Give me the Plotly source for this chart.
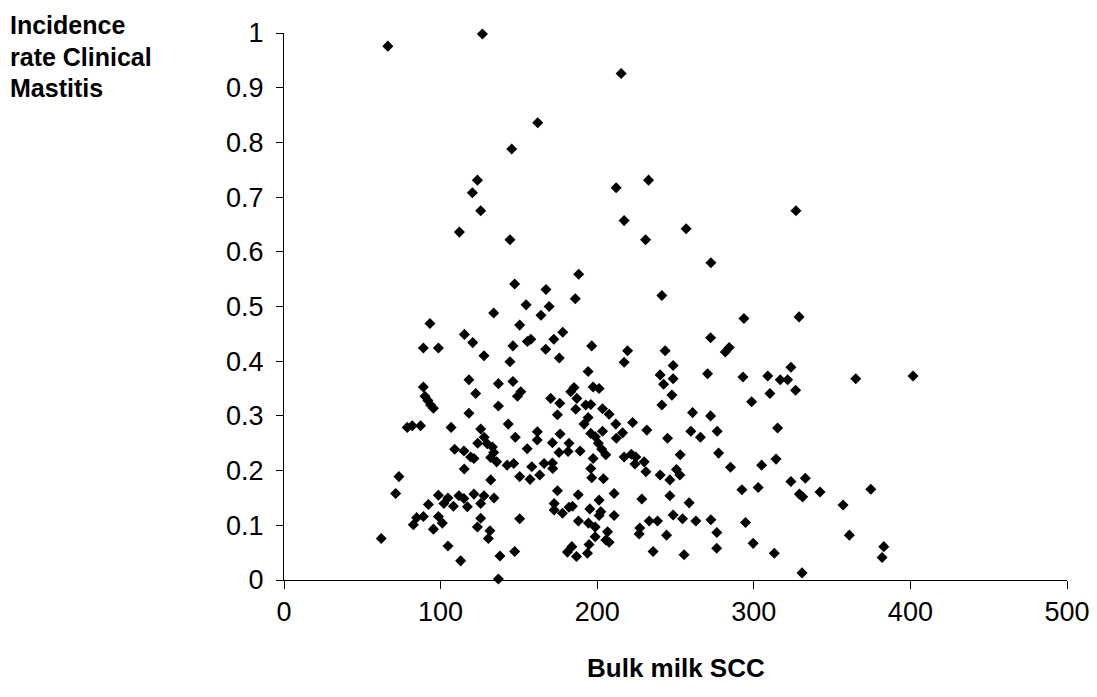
import plotly.graph_objects as go

# Bulk milk SCC (x) and incidence rate of clinical mastitis (y)
scc = [
    66.3, 126.7, 162.0, 145.4, 123.5, 120.3, 125.6, 112.0, 144.3, 147.3,
    167.3, 215.3, 232.8, 212.1, 217.2, 256.8, 230.9, 272.6, 188.2, 186.0,
    241.3, 326.9, 154.6, 169.3, 133.9, 164.1, 93.2, 150.5, 115.2, 172.3,
    157.6, 155.4, 120.5, 89.0, 98.6, 146.2, 167.1, 178.0, 127.7, 175.8,
    144.3, 118.1, 136.9, 146.2, 89.0, 151.2, 149.1, 122.4, 90.0, 91.9,
    93.6, 95.4, 170.3, 176.1, 136.9, 118.1, 174.6, 78.7, 81.9, 87.2,
    106.7, 125.6, 143.2, 147.7, 161.8, 161.7, 176.3,
    293.7, 272.4, 196.5, 219.4, 243.4, 284.3, 281.8, 217.2, 248.5, 194.2,
    240.2, 242.4, 248.5, 270.5, 293.1, 185.2, 183.1, 197.4, 201.2, 187.0,
    247.7, 241.3, 192.7, 195.9, 203.4, 207.6, 186.3, 194.2, 191.6, 260.9,
    272.4, 222.6, 211.9, 231.7, 203.4, 195.9, 198.8, 216.2, 212.2, 259.8,
    276.6, 244.9, 265.9,
    328.9, 323.7, 308.9, 316.9, 321.6, 326.7, 310.3, 298.6, 315.2, 365.1,
    401.7,
    123.7, 127.8, 129.8, 133.1, 133.9, 171.4, 109.0, 114.9, 119.2, 121.3,
    132.0, 135.8, 155.3, 142.5, 146.7, 158.2, 166.1, 171.4, 171.6, 175.6,
    182.0, 181.4, 189.1, 115.1, 73.4, 150.5, 157.1, 163.3, 132.0, 71.3,
    98.6, 104.7, 102.1, 111.7, 114.9, 117.1, 108.2, 121.3, 127.7, 125.6,
    134.1, 174.6, 172.5, 172.5, 177.8, 92.2, 84.7, 89.0, 82.6, 98.6,
    101.1, 95.4, 125.6, 123.5, 150.5, 131.5, 130.5, 62.1, 104.7, 137.9,
    147.3, 112.8, 136.9,
    200.7, 202.9, 205.5, 197.4, 217.2, 221.8, 224.7, 224.1, 230.0, 231.1,
    253.0, 277.5, 195.9, 196.5, 204.0, 240.2, 246.4, 250.6, 252.8, 285.1,
    292.4, 187.9, 210.8, 228.5, 246.4, 258.7, 182.0, 184.2, 195.3, 201.2,
    202.3, 201.2, 210.8, 188.0, 194.4, 198.7, 206.6, 198.7, 205.5, 207.6,
    233.2, 238.5, 227.2, 226.8, 248.5, 254.5, 263.0, 272.6, 294.7, 276.4,
    244.3, 194.8, 193.8, 183.8, 181.0, 186.8, 235.7, 255.5, 276.3,
    314.2, 305.0, 302.8, 323.7, 332.9, 329.1, 331.2, 342.3, 374.7, 357.0,
    361.0, 299.6, 313.1, 383.0, 381.9, 330.8,
]
incidence = [
    0.976, 0.998, 0.836, 0.788, 0.731, 0.708, 0.675, 0.636, 0.622, 0.541,
    0.531, 0.926, 0.731, 0.717, 0.657, 0.642, 0.622, 0.580, 0.559, 0.514,
    0.520, 0.675, 0.503, 0.500, 0.488, 0.484, 0.469, 0.466, 0.449, 0.440,
    0.440, 0.436, 0.434, 0.424, 0.424, 0.428, 0.422, 0.453, 0.410, 0.406,
    0.399, 0.366, 0.359, 0.363, 0.353, 0.344, 0.336, 0.341, 0.336, 0.328,
    0.320, 0.314, 0.332, 0.323, 0.318, 0.305, 0.302, 0.279, 0.282, 0.282,
    0.279, 0.276, 0.285, 0.261, 0.271, 0.256, 0.267,
    0.478, 0.443, 0.428, 0.419, 0.419, 0.425, 0.417, 0.398, 0.392, 0.381,
    0.375, 0.358, 0.368, 0.377, 0.371, 0.352, 0.344, 0.353, 0.350, 0.332,
    0.338, 0.320, 0.320, 0.321, 0.313, 0.303, 0.312, 0.297, 0.285, 0.306,
    0.300, 0.288, 0.285, 0.274, 0.272, 0.268, 0.262, 0.269, 0.259, 0.272,
    0.272, 0.259, 0.261,
    0.481, 0.389, 0.373, 0.366, 0.366, 0.347, 0.341, 0.326, 0.278, 0.368,
    0.373,
    0.250, 0.261, 0.249, 0.243, 0.233, 0.251, 0.239, 0.236, 0.225, 0.222,
    0.224, 0.216, 0.240, 0.210, 0.213, 0.207, 0.213, 0.214, 0.204, 0.233,
    0.250, 0.235, 0.236, 0.203, 0.189, 0.189, 0.184, 0.192, 0.183, 0.158,
    0.155, 0.150, 0.140, 0.154, 0.149, 0.134, 0.135, 0.157, 0.154, 0.140,
    0.150, 0.163, 0.140, 0.128, 0.122, 0.138, 0.114, 0.116, 0.101, 0.116,
    0.104, 0.093, 0.113, 0.097, 0.112, 0.090, 0.076, 0.076, 0.062, 0.044,
    0.052, 0.035, 0.002,
    0.250, 0.239, 0.229, 0.222, 0.225, 0.230, 0.225, 0.212, 0.216, 0.198,
    0.229, 0.232, 0.204, 0.187, 0.185, 0.192, 0.183, 0.202, 0.192, 0.206,
    0.165, 0.156, 0.158, 0.148, 0.154, 0.141, 0.133, 0.135, 0.130, 0.146,
    0.125, 0.118, 0.118, 0.108, 0.104, 0.097, 0.088, 0.079, 0.073, 0.069,
    0.108, 0.108, 0.095, 0.084, 0.119, 0.112, 0.108, 0.110, 0.105, 0.087,
    0.082, 0.065, 0.049, 0.061, 0.051, 0.043, 0.052, 0.046, 0.058,
    0.221, 0.210, 0.169, 0.180, 0.186, 0.157, 0.152, 0.161, 0.166, 0.137,
    0.082, 0.067, 0.049, 0.061, 0.041, 0.013,
]

x_ticks = [0, 100, 200, 300, 400, 500]
y_ticks = [0, 0.1, 0.2, 0.3, 0.4, 0.5, 0.6, 0.7, 0.8, 0.9, 1]
y_tick_text = ["0", "0.1", "0.2", "0.3", "0.4", "0.5", "0.6", "0.7", "0.8", "0.9", "1"]
y_title_lines = ["Incidence", "rate Clinical", "Mastitis"]

FONT = "Liberation Sans, Arial, sans-serif"
W, H = 1097, 697
L, T, PW, PH = 284, 33, 783, 547

fig = go.Figure()
fig.add_trace(go.Scatter(
    x=scc, y=incidence, mode="markers",
    marker=dict(symbol="diamond", size=8.5, color="black", line=dict(width=0)),
    cliponaxis=False, hoverinfo="x+y",
))

annotations = []
for line, ypix in zip(y_title_lines, [25, 57, 88]):
    annotations.append(dict(
        text="<b>%s</b>" % line, xref="paper", yref="paper",
        x=(8 - L) / PW, y=1 - (ypix - T) / PH, xanchor="left", yanchor="middle",
        align="left", showarrow=False,
        font=dict(family=FONT, size=25, color="black")))
annotations.append(dict(
    text="<b>Bulk milk SCC</b>", xref="paper", yref="paper",
    x=0.5, y=1 - (668 - T) / PH, xanchor="center", yanchor="middle",
    showarrow=False, font=dict(family=FONT, size=26, color="black")))

fig.update_layout(
    width=W, height=H,
    margin=dict(l=L, r=W - L - PW, t=T, b=H - T - PH, autoexpand=False),
    paper_bgcolor="white", plot_bgcolor="white",
    showlegend=False,
    font=dict(family=FONT, size=27, color="black"),
    xaxis=dict(
        range=[0, 500], tickvals=x_ticks, ticktext=[str(v) for v in x_ticks],
        showgrid=False, zeroline=False, showline=True, linecolor="black", linewidth=1,
        ticks="outside", ticklen=8, tickcolor="black", tickwidth=1,
        automargin=False,
        tickfont=dict(family=FONT, size=27, color="black"),
    ),
    yaxis=dict(
        range=[0, 1], tickvals=y_ticks, ticktext=y_tick_text,
        showgrid=False, zeroline=False, showline=True, linecolor="black", linewidth=1,
        ticks="outside", ticklen=7, tickcolor="black", tickwidth=1,
        ticklabelstandoff=7, automargin=False,
        tickfont=dict(family=FONT, size=27, color="black"),
    ),
    annotations=annotations,
)

fig.write_html(
    "out.html",
    config={"displayModeBar": False},
    post_script="document.body.style.margin='0';document.body.style.overflow='hidden';",
)
